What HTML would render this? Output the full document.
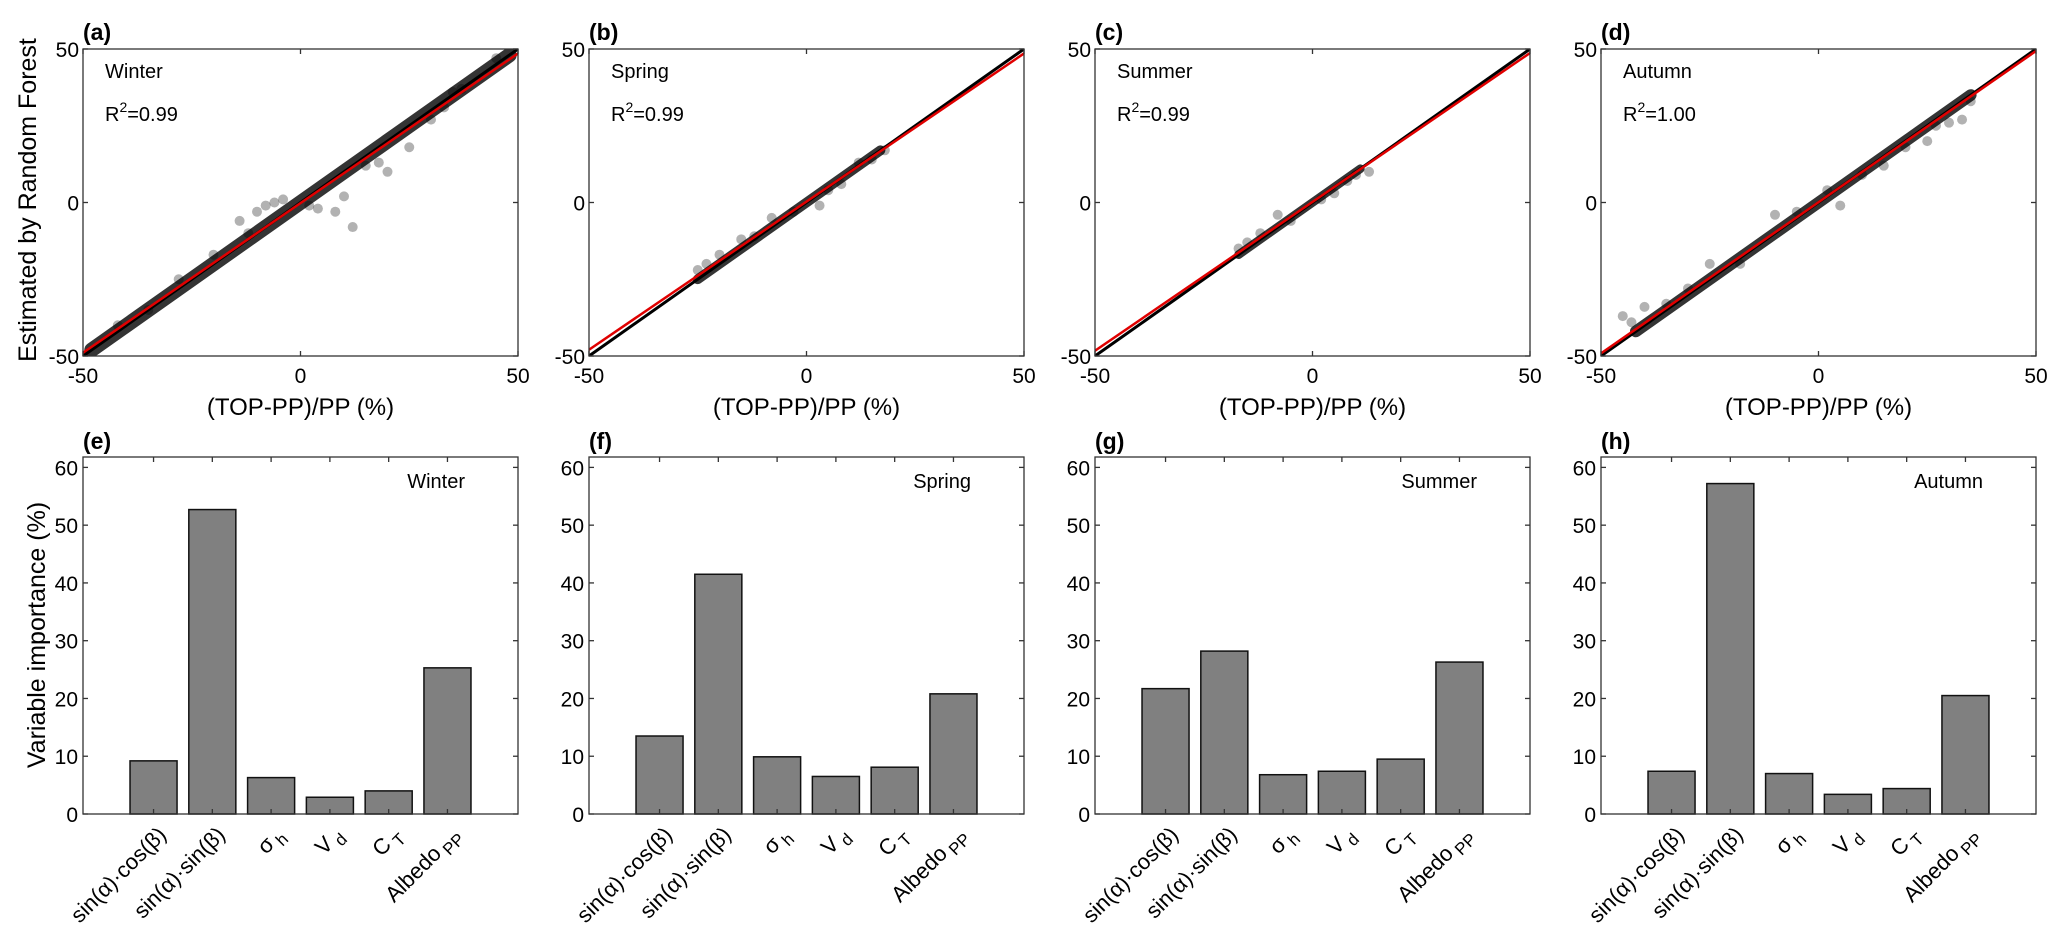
<!DOCTYPE html>
<html><head><meta charset="utf-8">
<style>
html,body{margin:0;padding:0;background:#fff;}
svg{display:block;font-family:"Liberation Sans",Arial,sans-serif;}
</style></head>
<body>
<svg id="fig" width="2067" height="944" viewBox="0 0 2067 944" xmlns="http://www.w3.org/2000/svg">
<text x="0" y="0" transform="translate(36,200) rotate(-90)" text-anchor="middle" font-size="25">Estimated by Random Forest</text>
<text x="0" y="0" transform="translate(45,635) rotate(-90)" text-anchor="middle" font-size="25">Variable importance (%)</text>
</svg>
<script>
// ---- data ----
const seasons = ["Winter","Spring","Summer","Autumn"];
const r2Labels = ["0.99","0.99","0.99","1.00"];
const scatterLetters = ["(a)","(b)","(c)","(d)"];
const barLetters = ["(e)","(f)","(g)","(h)"];
const fitSlope = [0.975, 0.965, 0.97, 0.985];
const fitIntercept = [-0.2, 0.3, 0.2, 0.1];
const cloudXmin = [-48, -25, -17, -42];
const cloudXmax = [48, 17, 11, 35];
const cloudSpread = [2.4, 1.6, 1.4, 1.9];
const outliersA = [[-42,-40],[-35,-35],[-28,-25],[-20,-17],[-14,-6],[-12,-10],[-10,-3],[-8,-1],[-6,0],[-4,1],[2,-1],[4,-2],[8,-3],[12,-8],[10,2],[15,12],[18,13],[20,10],[25,18],[30,27],[33,31],[35,36],[37,37],[45,47]];
const outliersB = [[-25,-22],[-23,-20],[-20,-17],[-15,-12],[-12,-11],[-8,-5],[-3,-3],[3,-1],[5,4],[8,6],[12,13],[15,14],[18,17]];
const outliersC = [[-17,-15],[-15,-13],[-12,-10],[-8,-4],[-5,-6],[2,1],[5,3],[8,7],[10,9],[13,10]];
const outliersD = [[-45,-37],[-43,-39],[-40,-34],[-35,-33],[-30,-28],[-25,-20],[-18,-20],[-10,-4],[-5,-3],[2,4],[5,-1],[10,9],[15,12],[20,18],[25,20],[27,25],[30,26],[33,27],[35,33]];
const outliers = [outliersA, outliersB, outliersC, outliersD];
const scatterTicks = [-50, 0, 50];
const varLabels = ["sin(\u03B1)\u00B7cos(\u03B2)","sin(\u03B1)\u00B7sin(\u03B2)","\u03C3 h","V d","C T","Albedo PP"];
const impWinter = [9.2, 52.7, 6.3, 2.9, 4.0, 25.3];
const impSpring = [13.5, 41.5, 9.9, 6.5, 8.1, 20.8];
const impSummer = [21.7, 28.2, 6.8, 7.4, 9.5, 26.3];
const impAutumn = [7.4, 57.2, 7.0, 3.4, 4.4, 20.5];
const importance = [impWinter, impSpring, impSummer, impAutumn];
const barTicks = [0,10,20,30,40,50,60];

const NS = "http://www.w3.org/2000/svg";
const svg = document.getElementById("fig");
function el(tag, attrs, parent){const e=document.createElementNS(NS,tag);for(const k in attrs)e.setAttribute(k,attrs[k]);(parent||svg).appendChild(e);return e;}

const lefts = [83, 589, 1095, 1601];
const W = 435;
const sTop = 49, sBot = 356;
const bTop = 457, bBot = 814;

for (let p=0;p<4;p++){
  const L = lefts[p], R = L+W;
  const sx = v => L + (v+50)/100*W;
  const sy = v => sBot - (v+50)/100*(sBot-sTop);
  const g = el("g",{});
  
  
  const clip = el("clipPath",{id:"clip"+p},g);
  el("rect",{x:L,y:sTop,width:W,height:sBot-sTop},clip);
  const cg = el("g",{"clip-path":"url(#clip"+p+")"},g);
  const x0=cloudXmin[p], x1=cloudXmax[p];
  const band = el("line",{x1:sx(x0),y1:sy(x0),x2:sx(x1),y2:sy(x1),stroke:"#111","stroke-width":cloudSpread[p]*2*(sBot-sTop)/100,"stroke-linecap":"round","stroke-opacity":0.85},cg);
  
  
  outliers[p].forEach(pt=>{
    const c = el("circle",{cx:sx(pt[0]),cy:sy(pt[1]),r:5,fill:"#000","fill-opacity":0.3},cg);
    
    
  });
  const ol = el("line",{x1:sx(-50),y1:sy(-50),x2:sx(50),y2:sy(50),stroke:"#000","stroke-width":3},cg);
  
  
  const fl = el("line",{x1:sx(-50),y1:sy(fitSlope[p]*-50+fitIntercept[p]),x2:sx(50),y2:sy(fitSlope[p]*50+fitIntercept[p]),stroke:"#e00000","stroke-width":2.5},cg);
  
  
  const box = el("rect",{x:L,y:sTop,width:W,height:sBot-sTop,fill:"none",stroke:"#333","stroke-width":1.3},g);
  
  
  scatterTicks.forEach(t=>{
    el("line",{x1:sx(t),y1:sBot,x2:sx(t),y2:sBot-5,stroke:"#333","stroke-width":1.3},g);
    el("line",{x1:sx(t),y1:sTop,x2:sx(t),y2:sTop+5,stroke:"#333","stroke-width":1.3},g);
    el("line",{x1:L,y1:sy(t),x2:L+5,y2:sy(t),stroke:"#333","stroke-width":1.3},g);
    el("line",{x1:R,y1:sy(t),x2:R-5,y2:sy(t),stroke:"#333","stroke-width":1.3},g);
    const xt = el("text",{x:sx(t),y:sBot+27,"text-anchor":"middle","font-size":21},g); xt.textContent=t;
    
    
    const yt = el("text",{x:L-4,y:sy(t)+8,"text-anchor":"end","font-size":21},g); yt.textContent=t;
    
    
  });
  const xl = el("text",{x:L+W/2,y:415,"text-anchor":"middle","font-size":24},g); xl.textContent="(TOP-PP)/PP (%)";
  
  
  const lt = el("text",{x:L,y:40,"font-size":23,"font-weight":"bold"},g); lt.textContent=scatterLetters[p];
  
  
  const st = el("text",{x:L+22,y:78,"font-size":20},g); st.textContent=seasons[p];
  
  
  const rt = el("text",{x:L+22,y:121,"font-size":20},g);
  
  
  rt.innerHTML = 'R<tspan dy="-9" font-size="14">2</tspan><tspan dy="9">='+r2Labels[p]+'</tspan>';

  // ---- bar panel ----
  const bx = v => L + (v+0.2)/7.4*W;
  const by = v => bBot - v/61.8*(bBot-bTop);
  const gb = el("g",{});
  
  
  importance[p].forEach((v,i)=>{
    const cx = bx(i+1), bw = 0.8/7.4*W;
    const r = el("rect",{x:cx-bw/2,y:by(v),width:bw,height:by(0)-by(v),fill:"#808080",stroke:"#111","stroke-width":1.5},gb);
    
    
  });
  const bb = el("rect",{x:L,y:bTop,width:W,height:bBot-bTop,fill:"none",stroke:"#333","stroke-width":1.3},gb);
  
  
  barTicks.forEach(t=>{
    el("line",{x1:L,y1:by(t),x2:L+5,y2:by(t),stroke:"#333","stroke-width":1.3},gb);
    el("line",{x1:R,y1:by(t),x2:R-5,y2:by(t),stroke:"#333","stroke-width":1.3},gb);
    const yt = el("text",{x:L-5,y:by(t)+8,"text-anchor":"end","font-size":21},gb); yt.textContent=t;
    
    
  });
  varLabels.forEach((lab,i)=>{
    const cx=bx(i+1);
    el("line",{x1:cx,y1:bBot,x2:cx,y2:bBot-5,stroke:"#333","stroke-width":1.3},gb);
    el("line",{x1:cx,y1:bTop,x2:cx,y2:bTop+5,stroke:"#333","stroke-width":1.3},gb);
    const tx = el("text",{x:0,y:0,"text-anchor":"end","font-size":22,transform:"translate("+(cx+14)+","+(bBot+22)+") rotate(-45)"},gb);
    
    
    const parts = lab.split(" ");
    if (parts.length===2){
      tx.innerHTML = parts[0]+'<tspan dx="4" dy="6" font-size="17">'+parts[1]+'</tspan>';
    } else tx.textContent = lab;
  });
  const blt = el("text",{x:L,y:449,"font-size":23,"font-weight":"bold"},gb); blt.textContent=barLetters[p];
  
  
  const bst = el("text",{x:L+382,y:488,"text-anchor":"end","font-size":20},gb); bst.textContent=seasons[p];
  
  
}
</script>
</body></html>
